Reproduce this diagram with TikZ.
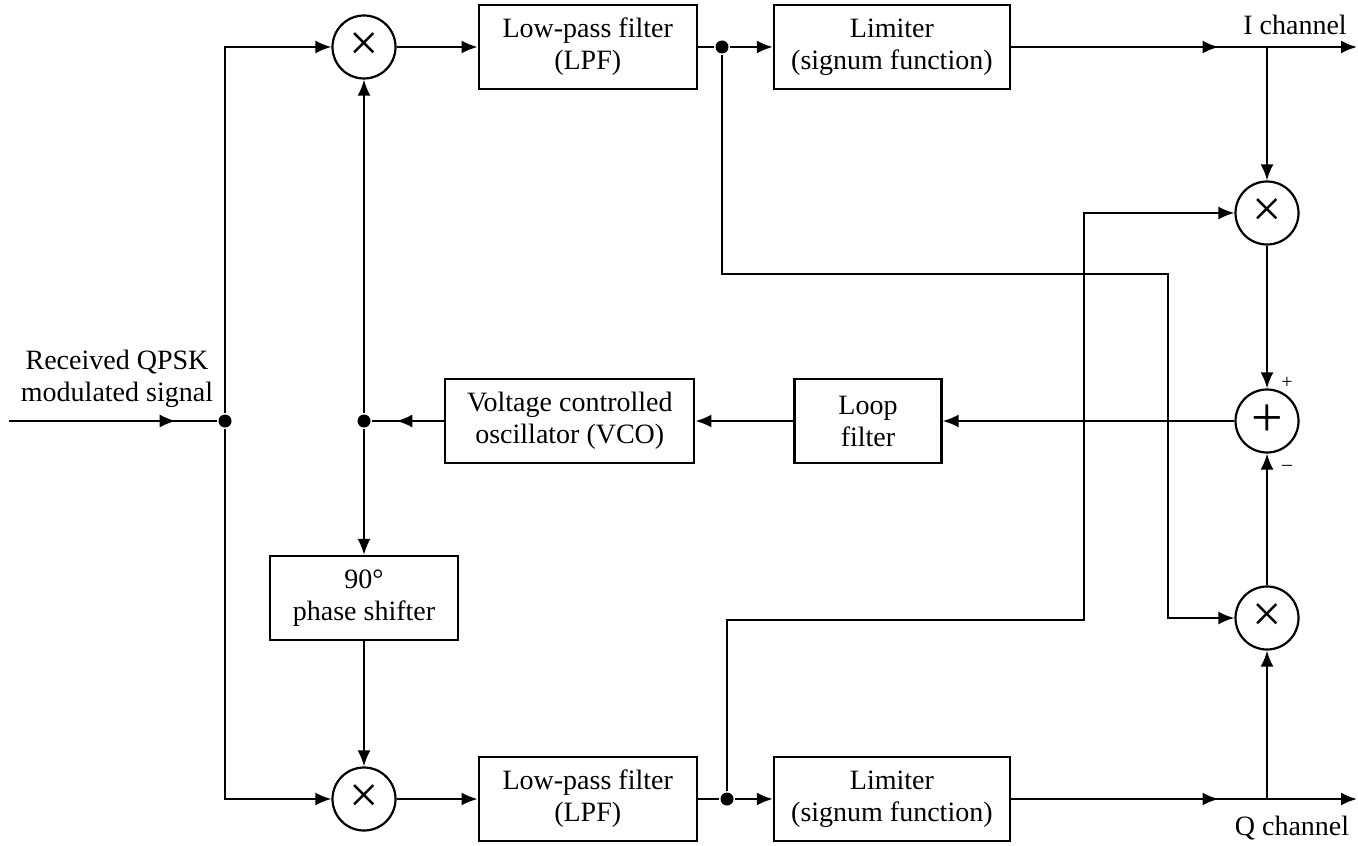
\documentclass[tikz,border=0pt]{standalone}
\usepackage{fontspec}
\setmainfont{Liberation Serif}
\usetikzlibrary{positioning,arrows.meta,decorations.markings}

\tikzset{
  block/.style={draw, minimum height=42pt, align=center, inner sep=0pt},
  mixer/.style={draw, circle, minimum size=31.5pt, inner sep=0pt,
                font=\fontsize{26}{26}\selectfont},
  dot/.style={circle, fill, inner sep=0pt, minimum size=6.5pt},
  sign/.style={font=\fontsize{10}{10}\selectfont, inner sep=0pt},
  midarrow/.style={postaction={decorate},
                   decoration={markings, mark=at position #1 with {\arrow{>}}}}
}

\begin{document}
\begin{tikzpicture}[x=0.5pt, y=-0.5pt, >={Latex[length=8pt,width=6.5pt]},
                    line width=1.1pt, font=\fontsize{14}{16}\selectfont]
  \useasboundingbox (0,0) rectangle (1358,845);
  \node (mixI)  [mixer] at (364,47) {×};
  \node (lpfI)  [block, minimum width=109pt, right=40.5pt of mixI]
    {Low-pass filter\\(LPF)};
  \node (jI)    [dot] at (722,47) {};
  \node (limI)  [block, minimum width=118pt, right=37.5pt of lpfI]
    {Limiter\\(signum function)};
  \node (mixQ)  [mixer] at (364,799) {×};
  \node (lpfQ)  [block, minimum width=109pt, right=40.5pt of mixQ]
    {Low-pass filter\\(LPF)};
  \node (jQ)    [dot] at (727,799) {};
  \node (limQ)  [block, minimum width=118pt, right=37.5pt of lpfQ]
    {Limiter\\(signum function)};
  \node (mixIr) [mixer] at (1267,213) {×};
  \node (sum)   [mixer, font=\fontsize{28}{28}\selectfont] at (1267,421) {+};
  \node (mixQr) [mixer] at (1267,618) {×};
  \node (loop)  [block, minimum width=73.5pt] at (868,421) {Loop\\filter};
  \node (vco)   [block, minimum width=124.5pt, left=49pt of loop]
    {Voltage controlled\\oscillator (VCO)};
  \node (jvco)  [dot] at (364,421) {};
  \node (jin)   [dot] at (225,421) {};
  \node (phase) [block, minimum width=94pt] at (364,598) {90°\\phase shifter};
  \node (rx)    [align=center] at (117,379) {Received QPSK\\modulated signal};
  \node (ich)   at (1295,25) {I channel};
  \node (qch)   at (1292,828) {Q channel};
  \node (plus)  [sign] at (1287,383) {+};
  \node (minus) [sign] at (1287,468) {–};
  \coordinate (rin)  at (9,421);
  \coordinate (iout) at (1357,47);
  \coordinate (qout) at (1357,799);
  \coordinate (itap) at (1267,47);
  \coordinate (qtap) at (1267,799);
  \coordinate (xI)   at (1168,274);
  \coordinate (xQ)   at (1084,620);
  \draw[midarrow=0.8] (rin) -- (jin);
  \draw[->] (jin) |- (mixI);
  \draw[->] (jin) |- (mixQ);
  \draw[->] (mixI) -- (lpfI);
  \draw (lpfI) -- (jI);
  \draw[->] (jI) -- (limI);
  \draw[->, midarrow=0.6] (limI) -- (iout);
  \draw[->] (mixQ) -- (lpfQ);
  \draw (lpfQ) -- (jQ);
  \draw[->] (jQ) -- (limQ);
  \draw[->, midarrow=0.6] (limQ) -- (qout);
  \draw[->] (itap) -- (mixIr);
  \draw[->] (mixIr) -- (sum);
  \draw[->] (qtap) -- (mixQr);
  \draw[->] (mixQr) -- (sum);
  \draw[->] (jI) |- (xI) |- (mixQr);
  \draw[->] (jQ) |- (xQ) |- (mixIr);
  \draw[->] (sum) -- (loop);
  \draw[->] (loop) -- (vco);
  \draw[midarrow=0.66] (vco) -- (jvco);
  \draw[->] (jvco) -- (mixI);
  \draw[->] (jvco) -- (phase);
  \draw[->] (phase) -- (mixQ);
\end{tikzpicture}
\end{document}
